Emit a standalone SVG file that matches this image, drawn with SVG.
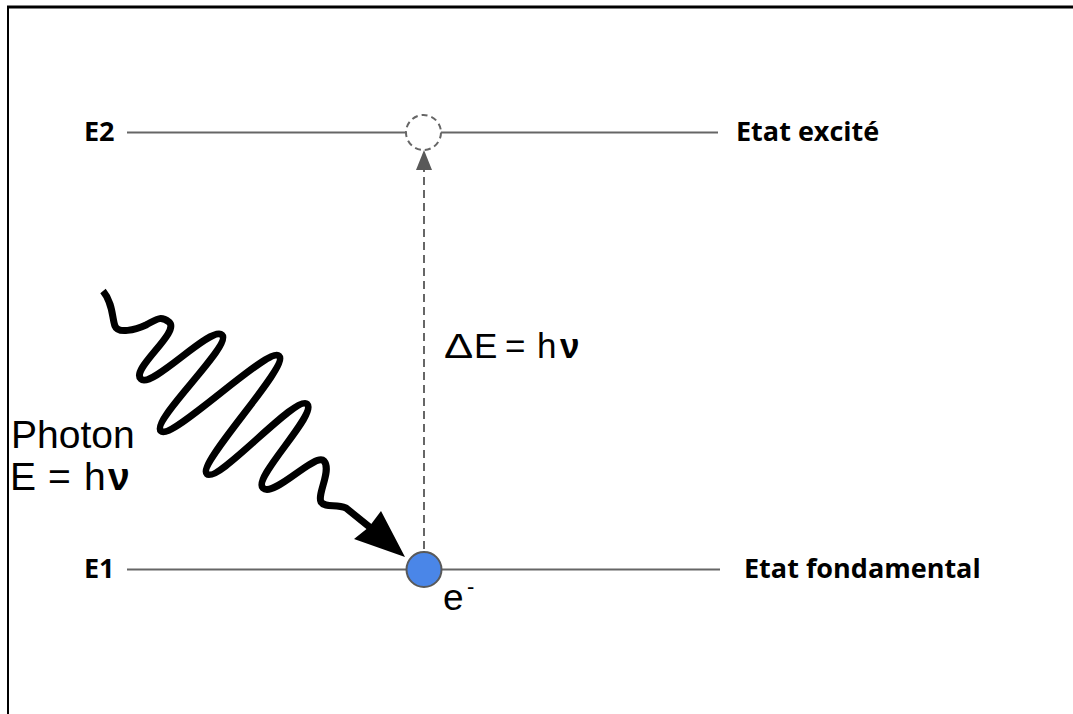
<svg xmlns="http://www.w3.org/2000/svg" width="1073" height="714" viewBox="0 0 1073 714">
  <defs>
    <style>
      .level { stroke: #666666; stroke-width: 2; fill: none; }
      .lbl { font-family: "Open Sans", "Noto Sans", sans-serif; font-weight: bold; font-size: 27px; fill: #000; }
      .txt { font-family: "Liberation Sans", Arial, sans-serif; fill: #000; }
    </style>
    <marker id="arrowGray" markerUnits="userSpaceOnUse" markerWidth="20" markerHeight="16" refX="14" refY="8" orient="auto" viewBox="0 0 20 16">
      <path d="M0,0 L20,8 L0,16 Z" fill="#595959"/>
    </marker>
  </defs>
  <rect x="0" y="0" width="1073" height="714" fill="#ffffff"/>
  <g id="frame" stroke="#000" fill="none">
    <line x1="7" y1="7" x2="1073" y2="7" stroke-width="3"/>
    <line x1="8" y1="6" x2="8" y2="714" stroke-width="2"/>
  </g>
  <g id="level-E2">
    <line class="level" x1="127" y1="132.5" x2="718" y2="132.5"/>
    <text class="lbl" x="84" y="141">E2</text>
    <text class="lbl" x="736" y="141">Etat excité</text>
  </g>
  <g id="level-E1">
    <line class="level" x1="127" y1="569.5" x2="720" y2="569.5"/>
    <text class="lbl" x="84" y="578">E1</text>
    <text class="lbl" x="744" y="578">Etat fondamental</text>
  </g>
  <g id="connectors">
    <line x1="424" y1="549" x2="424" y2="156" stroke="#666666" stroke-width="2" stroke-dasharray="8 5" marker-end="url(#arrowGray)"/>
    <path d="M103,291 C113,303 112,318 115,326 C118,334 135,330 146,325 C156,320 160,315 169,322 C181,332 130,369 141,379 C152,389 211,325 222,335 C233,345 150,421 161,431 C172,441 268,346 279,356 C290,366 196,464 207,474 C218,484 296,394 307,404 C318,414 252,478 263,488 C274,498 315,452 324,461 C332,470 317,494 321,502 C325,508 336,504 346,508 L372,529" fill="none" stroke="#000" stroke-width="7" stroke-linejoin="round" stroke-linecap="butt"/>
    <polygon points="405,557 354,539 369,527 381,511" fill="#000"/>
  </g>
  <g id="state-excited">
    <circle cx="423.5" cy="132.5" r="17.5" fill="#ffffff" stroke="#666666" stroke-width="2" stroke-dasharray="6 4"/>
  </g>
  <g id="electron">
    <circle cx="424" cy="569.5" r="17.5" fill="#4a86e8" stroke="#595959" stroke-width="2"/>
    <text class="txt" x="443" y="610" font-size="37">e</text>
    <text class="txt" x="467" y="594" font-size="22">-</text>
  </g>
  <g id="label-deltaE">
    <text class="txt" font-size="35" transform="translate(444,358) scale(1.25,1)">Δ</text>
    <text class="txt" y="358" font-size="35"><tspan x="474">E</tspan><tspan x="505">=</tspan><tspan x="537">h</tspan><tspan x="560" font-weight="bold">ν</tspan></text>
  </g>
  <g id="label-photon">
    <text class="txt" x="11" y="448" font-size="39">Photon</text>
    <text class="txt" y="490" font-size="39"><tspan x="10">E</tspan><tspan x="48">=</tspan><tspan x="84">h</tspan><tspan x="108" font-weight="bold">ν</tspan></text>
  </g>
</svg>
